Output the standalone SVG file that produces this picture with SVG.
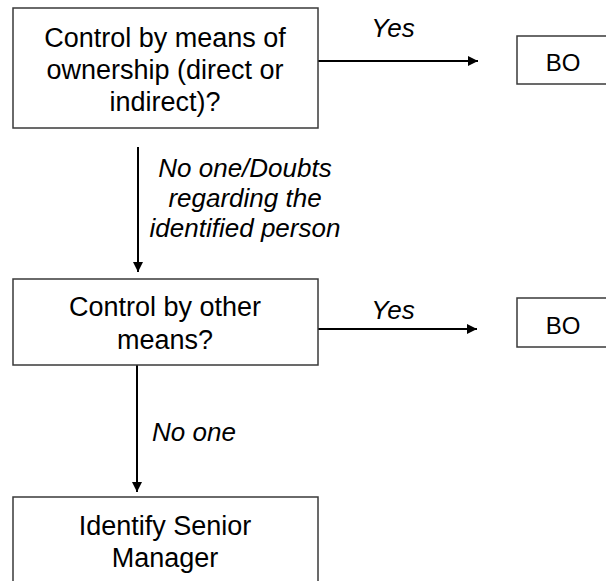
<svg xmlns="http://www.w3.org/2000/svg" width="606" height="581" viewBox="0 0 606 581">
  <style>
    .box { fill: #ffffff; stroke: #3a3a3a; stroke-width: 1.5; }
    .t { font-family: "Liberation Sans", Arial, sans-serif; font-size: 27px; fill: #000; text-anchor: middle; }
    .bo { font-family: "Liberation Sans", Arial, sans-serif; font-size: 24px; fill: #000; text-anchor: middle; }
    .lbl { font-family: "Liberation Sans", Arial, sans-serif; font-size: 26px; font-style: italic; fill: #000; text-anchor: middle; }
    .lblL { font-family: "Liberation Sans", Arial, sans-serif; font-size: 26px; font-style: italic; fill: #000; text-anchor: start; }
    .conn { stroke: #000; stroke-width: 2; fill: none; marker-end: url(#arrow); }
  </style>
  <defs>
    <marker id="arrow" viewBox="0 0 10 10" refX="10" refY="5" markerWidth="5" markerHeight="5" markerUnits="strokeWidth" orient="auto">
      <path d="M0,0 L10,5 L0,10 Z" fill="#000"/>
    </marker>
  </defs>
  <rect width="606" height="581" fill="#ffffff"/>

  <g id="connectors">
    <line class="conn" x1="318" y1="61" x2="478" y2="61"/>
    <line class="conn" x1="138" y1="147" x2="138" y2="272"/>
    <line class="conn" x1="318" y1="329" x2="477" y2="329"/>
    <line class="conn" x1="137" y1="365" x2="137" y2="492"/>
    <text class="lbl" x="393" y="37">Yes</text>
    <text class="lbl" x="245" y="177">No one/Doubts</text>
    <text class="lbl" x="245" y="207">regarding the</text>
    <text class="lbl" x="245" y="237">identified person</text>
    <text class="lbl" x="393" y="319">Yes</text>
    <text class="lblL" x="152" y="441">No one</text>
  </g>

  <g id="node-ownership">
    <rect class="box" x="13" y="8" width="305" height="120"/>
    <text class="t" x="165" y="47">Control by means of</text>
    <text class="t" x="165" y="79">ownership (direct or</text>
    <text class="t" x="165" y="111">indirect)?</text>
  </g>

  <g id="node-bo1">
    <rect class="box" x="517" y="36" width="100" height="48"/>
    <text class="bo" x="563" y="71">BO</text>
  </g>

  <g id="node-other-means">
    <rect class="box" x="13" y="279" width="305" height="86"/>
    <text class="t" x="165" y="316">Control by other</text>
    <text class="t" x="165" y="349">means?</text>
  </g>

  <g id="node-bo2">
    <rect class="box" x="517" y="298" width="100" height="49"/>
    <text class="bo" x="563" y="334">BO</text>
  </g>

  <g id="node-senior-manager">
    <rect class="box" x="13" y="497" width="305" height="100"/>
    <text class="t" x="165" y="535">Identify Senior</text>
    <text class="t" x="165" y="567">Manager</text>
  </g>
</svg>
